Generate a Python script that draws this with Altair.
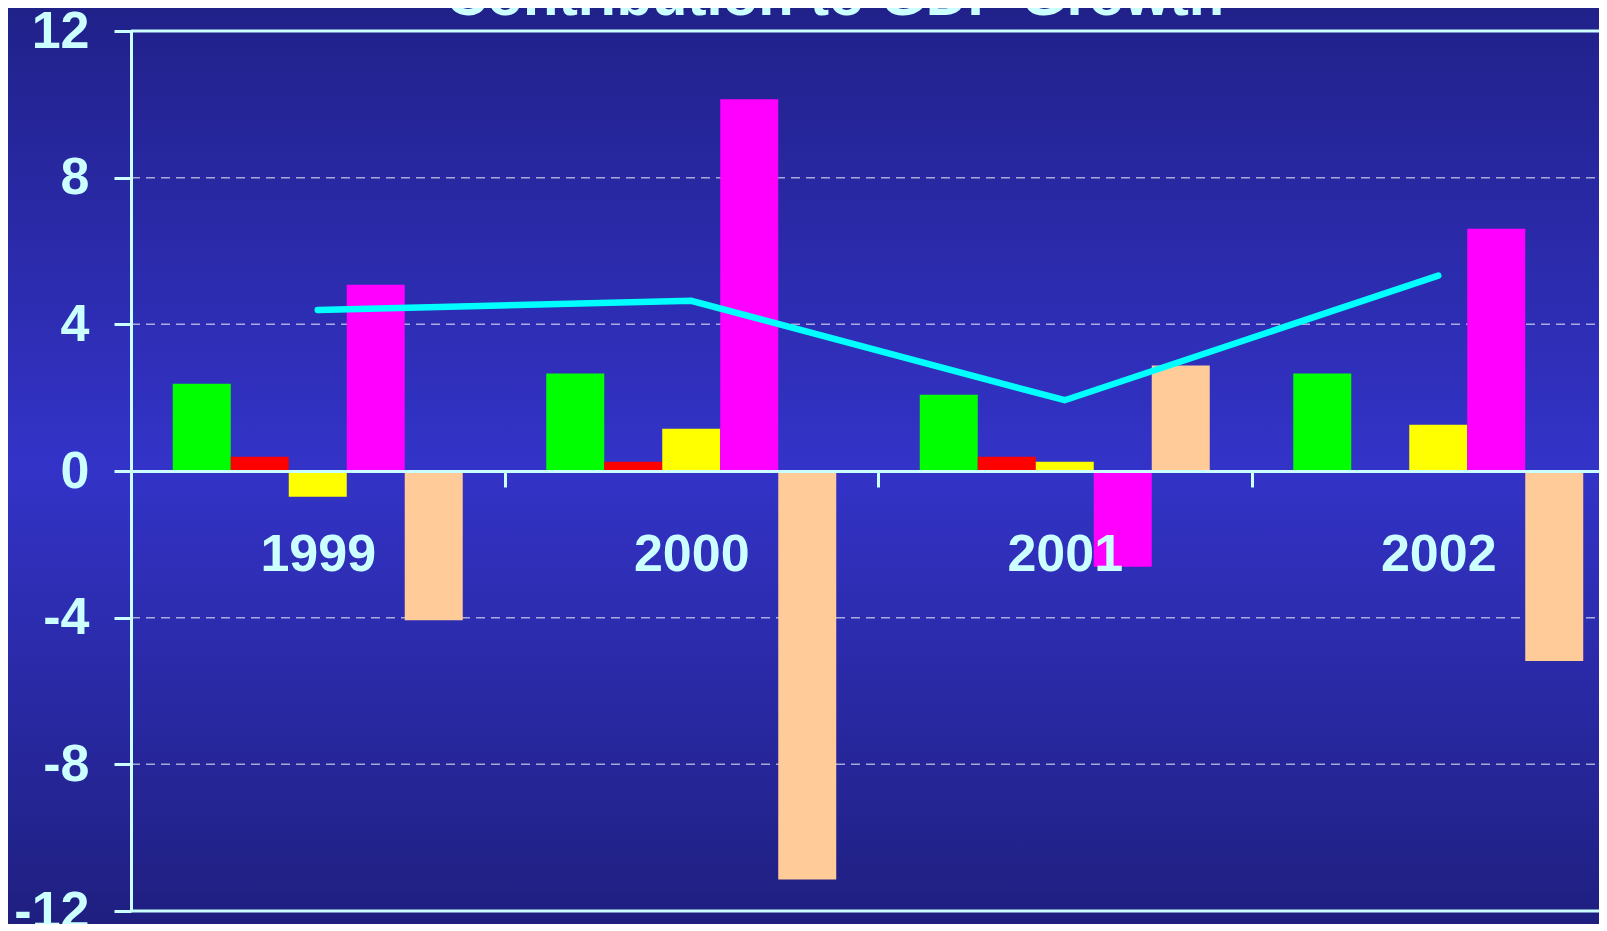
import altair as alt
import pandas as pd

# ---- data ----
title_text = "Contribution to GDP Growth"
years = ["1999", "2000", "2001", "2002"]
series = ["Consumption", "Government", "Investment", "Exports", "Imports"]
consumption = [2.38, 2.66, 2.08, 2.66]
government = [0.39, 0.25, 0.39, 0.0]
investment = [-0.70, 1.15, 0.25, 1.26]
exports = [5.08, 10.14, -2.61, 6.61]
imports = [-4.07, -11.14, 2.88, -5.18]
gdp_growth = [4.39, 4.64, 1.93, 5.33]
y_ticks = [-12, -8, -4, 0, 4, 8, 12]
grid_levels = [8, 4, -4, -8]
frame_levels = [12, -12]

series_colors = ["#00ff00", "#ff0000", "#ffff00", "#ff00ff", "#ffcc99"]

rows = []
for s, vals in zip(series, [consumption, government, investment, exports, imports]):
    for y, v in zip(years, vals):
        rows.append({"year": y, "series": s, "value": v})
bars_df = pd.DataFrame(rows)
line_df = pd.DataFrame({"year": years, "gdp": gdp_growth})
grid_df = pd.DataFrame({"level": grid_levels})
frame_df = pd.DataFrame({"level": frame_levels})

W, H = 1468, 880
PL, PT, PB = 123, 23, 13
TXT = "#ccffff"
FONT = "Liberation Sans"
YFS = 52

yscale = alt.Scale(domain=[-12, 12], nice=False, zero=False)
xscale = alt.Scale(domain=years, range=[0, 1494], paddingInner=0, paddingOuter=0)

yaxis = alt.Axis(values=y_ticks, title=None, grid=False, domainColor=TXT, domainWidth=3,
                 tickColor=TXT, tickWidth=3, tickSize=17, labelColor=TXT,
                 labelFont=FONT, labelFontSize=YFS, labelFontWeight="bold",
                 labelPadding=25, labelBaseline="middle", zindex=1, labelOverlap=False,
                 labelFlush=False, labelExpr="'' + datum.value")
xaxis = alt.Axis(title=None, orient="bottom", offset=-H / 2, tickBand="extent",
                 domainColor=TXT, domainWidth=3, tickColor=TXT, tickWidth=3, tickSize=16,
                 labelColor=TXT, labelFont=FONT, labelFontSize=52, labelFontWeight="bold",
                 labelPadding=42, labelAngle=0, zindex=1, grid=False)

grad = alt.LinearGradient(
    gradient="linear", x1=0, x2=0, y1=0, y2=1,
    stops=[alt.GradientStop(color="#21218a", offset=0),
           alt.GradientStop(color="#3333c8", offset=0.5),
           alt.GradientStop(color="#1f1f80", offset=1)])

bg = alt.Chart(alt.Data(values=[{"a": 1}])).mark_rect(color=grad, clip=False).encode(
    x=alt.value(-PL), x2=alt.value(W), y=alt.value(-PT), y2=alt.value(H + PB))

grid = alt.Chart(grid_df).mark_rule(color="white", opacity=0.6, strokeWidth=1.5,
                                    strokeDash=[9, 6]).encode(
    y=alt.Y("level:Q", scale=yscale, axis=yaxis), x=alt.value(0), x2=alt.value(W))

frame = alt.Chart(frame_df).mark_rule(color=TXT, strokeWidth=3).encode(
    y=alt.Y("level:Q", scale=yscale, axis=yaxis), x=alt.value(0), x2=alt.value(W))

bars = alt.Chart(bars_df).mark_bar().encode(
    x=alt.X("year:N", scale=xscale, axis=xaxis),
    xOffset=alt.XOffset("series:N", sort=series,
                        scale=alt.Scale(paddingInner=0, paddingOuter=0.72)),
    y=alt.Y("value:Q", scale=yscale, axis=yaxis),
    color=alt.Color("series:N", sort=series,
                    scale=alt.Scale(domain=series, range=series_colors), legend=None),
)

line = alt.Chart(line_df).mark_line(color="#00ffff", strokeWidth=6.5, strokeCap="round",
                                    strokeJoin="miter").encode(
    x=alt.X("year:N", scale=xscale, axis=xaxis),
    y=alt.Y("gdp:Q", scale=yscale, axis=yaxis),
)

title = alt.Chart(alt.Data(values=[{"t": title_text}])).mark_text(
    font=FONT, fontSize=58, fontWeight="bold", color=TXT, align="center",
    baseline="alphabetic", clip=False).encode(
    text="t:N", x=alt.value(W / 2 - 30), y=alt.value(-16))

chart = alt.layer(bg, grid, frame, bars, line, title).properties(
    width=W, height=H,
    autosize=alt.AutoSizeParams(type="none"),
    padding={"left": PL, "top": PT, "right": 0, "bottom": PB},
    background="#2a2aa8",
).configure_view(stroke=None)

chart.save("out.html", embed_options={"renderer": "svg", "actions": False})
